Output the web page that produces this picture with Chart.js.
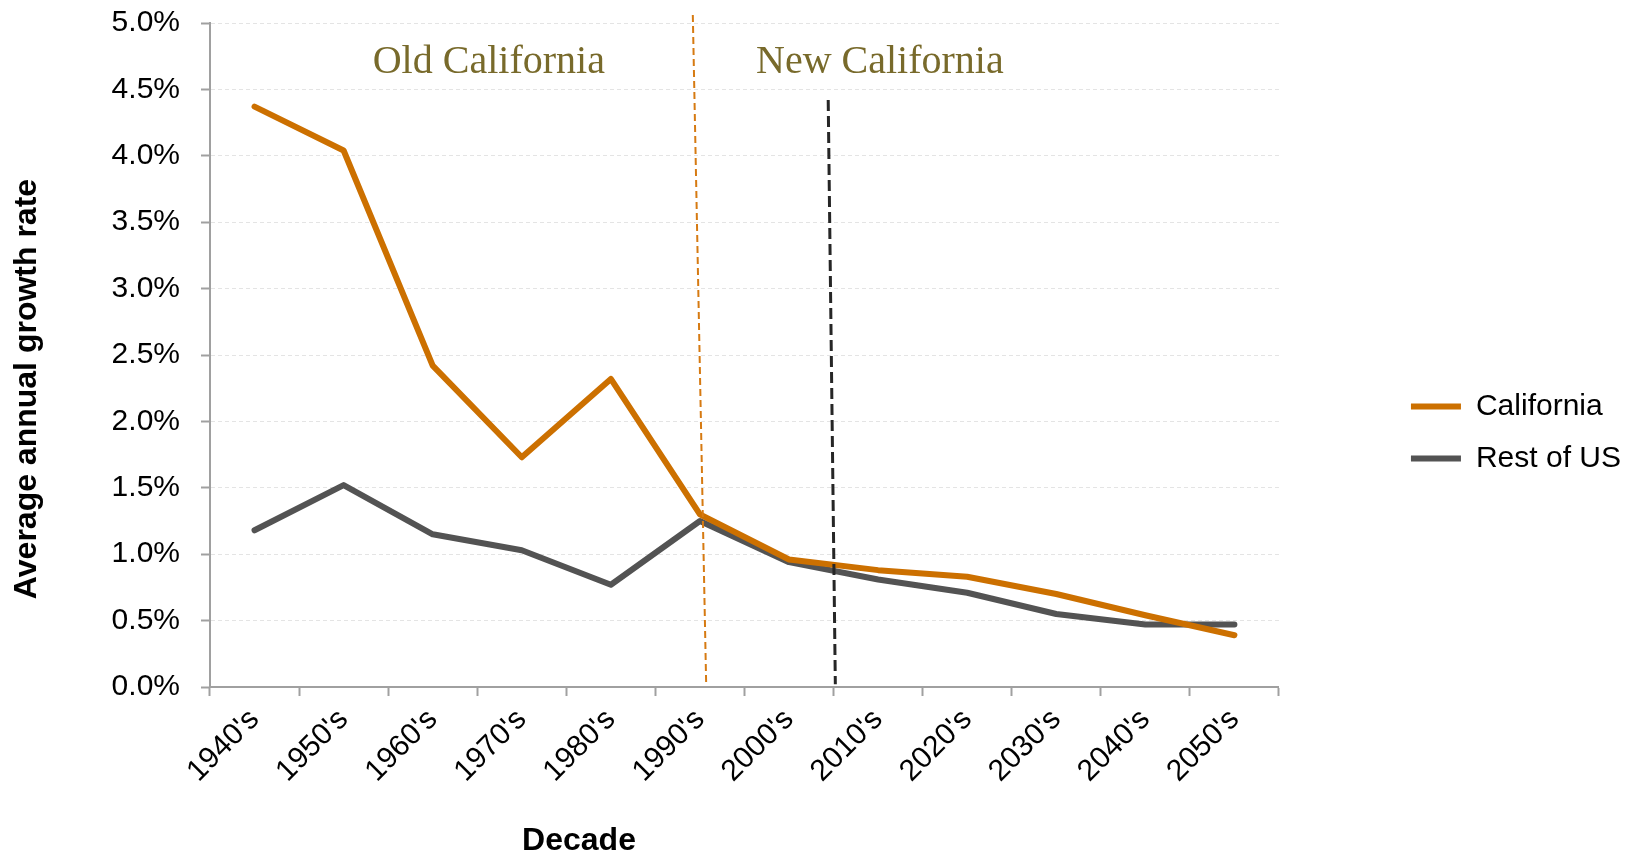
<!DOCTYPE html>
<html lang="en">
<head>
<meta charset="UTF-8">
<title>California vs Rest of US - average annual growth rate</title>
<style>
    body, html {
        margin: 0;
        padding: 0;
        background: #fff;
    }
    #chart {
        width: 1644px;
        height: 854px;
    }
</style>
</head>
<body>
<div id="chart">
    <canvas id="myChart"></canvas>
</div>

<script src="https://cdn.jsdelivr.net/npm/chart.js"></script>
<script>
    var decades = ["1940's", "1950's", "1960's", "1970's", "1980's", "1990's",
                   "2000's", "2010's", "2020's", "2030's", "2040's", "2050's"];
    var california = [4.37, 4.04, 2.42, 1.73, 2.32, 1.30, 0.96, 0.88, 0.83, 0.70, 0.54, 0.39];
    var restOfUS   = [1.18, 1.52, 1.15, 1.03, 0.77, 1.25, 0.94, 0.81, 0.71, 0.55, 0.47, 0.47];

    // dividers, x = decade index, y = growth %
    var oldNewDivider = [{x: 4.92, y: 5.06}, {x: 5.07, y: 0.02}];
    var divider2010   = [{x: 6.44, y: 4.42}, {x: 6.52, y: 0.02}];

    var eraLabels = ['Old California', 'New California'];
    var eraAnchors = [{x: 2.63, y: 4.70}, {x: 7.02, y: 4.70}];

    var xTitle = 'Decade';
    var yTitle = 'Average annual growth rate';

    var sans = '"Liberation Sans", Arial, sans-serif';
    Chart.defaults.color = '#000';
    Chart.defaults.font.family = sans;

    // era labels and axis titles
    var textPlugin = {
        id: 'textPlugin',
        afterDatasetsDraw: function(chart) {
            var ctx = chart.ctx;
            var sx = chart.scales.x2, sy = chart.scales.y, area = chart.chartArea;
            ctx.save();
            ctx.textAlign = 'center';
            ctx.textBaseline = 'middle';
            ctx.fillStyle = '#786a2b';
            ctx.font = '40px "Liberation Serif", "DejaVu Serif", serif';
            eraLabels.forEach(function(t, i) {
                ctx.fillText(t, sx.getPixelForValue(eraAnchors[i].x), sy.getPixelForValue(eraAnchors[i].y));
            });
            ctx.fillStyle = '#000';
            ctx.font = 'bold 32px ' + sans;
            ctx.fillText(xTitle, area.left + 369, area.bottom + 154);
            ctx.translate(27, area.top + 366);
            ctx.rotate(-Math.PI / 2);
            ctx.fillText(yTitle, 0, 0);
            ctx.restore();
        }
    };

    function noEdgePadding(s) {
        s.paddingTop = 0;
        s.paddingBottom = 0;
    }

    var ctx = document.getElementById('myChart').getContext('2d');
    window.myChart = new Chart(ctx, {
        type: 'line',
        data: {
            labels: decades,
            datasets: [
                {
                    label: 'California',
                    data: california,
                    borderColor: '#cc7000',
                    backgroundColor: '#cc7000',
                    borderWidth: 6,
                    borderCapStyle: 'round',
                    borderJoinStyle: 'round',
                    pointRadius: 0,
                    order: 1
                },
                {
                    label: 'Rest of US',
                    data: restOfUS,
                    borderColor: '#535353',
                    backgroundColor: '#535353',
                    borderWidth: 6,
                    borderCapStyle: 'round',
                    borderJoinStyle: 'round',
                    pointRadius: 0,
                    order: 2
                },
                {
                    label: 'divider',
                    data: oldNewDivider,
                    xAxisID: 'x2',
                    borderColor: '#d67a12',
                    borderWidth: 2,
                    borderDash: [7, 4],
                    pointRadius: 0,
                    clip: false,
                    order: 0
                },
                {
                    label: 'divider',
                    data: divider2010,
                    xAxisID: 'x2',
                    borderColor: '#262626',
                    borderWidth: 3,
                    borderDash: [11, 5],
                    pointRadius: 0,
                    clip: false,
                    order: 0
                }
            ]
        },
        options: {
            responsive: true,
            maintainAspectRatio: false,
            animation: false,
            layout: {
                padding: {top: 23, right: 13, bottom: 12, left: 0}
            },
            plugins: {
                tooltip: {enabled: false},
                legend: {
                    position: 'right',
                    labels: {
                        filter: function(item) { return item.text !== 'divider'; },
                        usePointStyle: true,
                        pointStyle: 'line',
                        pointStyleWidth: 50,
                        padding: 22,
                        color: '#000',
                        font: {size: 30, family: sans}
                    }
                }
            },
            scales: {
                x: {
                    type: 'category',
                    offset: true,
                    grid: {
                        offset: true,
                        drawOnChartArea: false,
                        tickLength: 9,
                        tickWidth: 2,
                        tickColor: '#a0a0a0'
                    },
                    border: {color: '#a0a0a0', width: 2},
                    ticks: {
                        minRotation: 45,
                        maxRotation: 45,
                        padding: 6,
                        color: '#000',
                        font: {size: 30}
                    },
                    afterFit: function(s) { s.height = 155; }
                },
                x2: {
                    type: 'linear',
                    display: false,
                    min: -0.5,
                    max: 11.5
                },
                y: {
                    min: 0,
                    max: 5,
                    ticks: {
                        stepSize: 0.5,
                        padding: 21,
                        color: '#000',
                        font: {size: 30},
                        callback: function(v) { return v.toFixed(1) + '%'; }
                    },
                    grid: {
                        color: '#e4e4e4',
                        lineWidth: 1,
                        tickLength: 9,
                        tickWidth: 2,
                        tickColor: '#a0a0a0',
                        tickBorderDash: []
                    },
                    border: {color: '#a0a0a0', width: 2, dash: [4, 3]},
                    afterFit: function(s) { s.width = 210; noEdgePadding(s); }
                },
                yPad: {
                    type: 'linear',
                    position: 'right',
                    display: true,
                    grid: {display: false},
                    border: {display: false},
                    ticks: {display: false},
                    afterFit: function(s) { s.width = 110; noEdgePadding(s); }
                }
            }
        },
        plugins: [textPlugin]
    });
</script>
</body>
</html>
